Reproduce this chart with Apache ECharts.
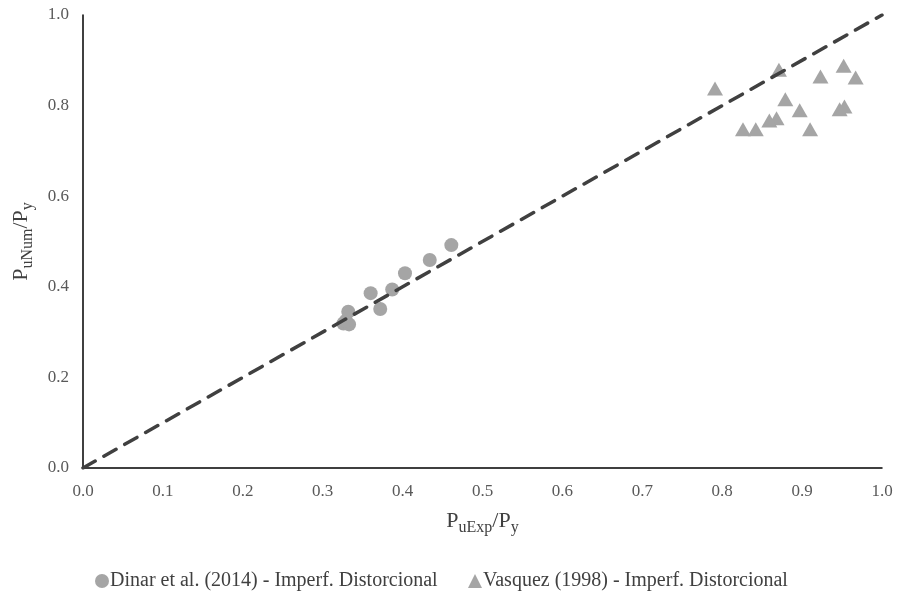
<!DOCTYPE html>
<html>
<head>
<meta charset="utf-8">
<script src="https://cdn.jsdelivr.net/npm/echarts@6/dist/echarts.min.js"></script>
<style>
  html, body { margin: 0; padding: 0; background: #fff; }
  #chart { width: 898px; height: 599px; }
</style>
</head>
<body>
<div id="chart"></div>
<script>
// Dinar et al. (2014): experimental vs numerical ultimate load ratio
const dinarExp = [0.326, 0.333, 0.329, 0.332, 0.360, 0.372, 0.387, 0.403, 0.434, 0.461];
const dinarNum = [0.319, 0.317, 0.325, 0.345, 0.386, 0.351, 0.394, 0.430, 0.459, 0.492];

// Vasquez (1998)
const vasquezExp = [0.791, 0.871, 0.952, 0.923, 0.967, 0.879, 0.897, 0.947, 0.953, 0.868, 0.859, 0.826, 0.842, 0.910];
const vasquezNum = [0.838, 0.879, 0.888, 0.864, 0.862, 0.814, 0.790, 0.792, 0.798, 0.772, 0.767, 0.748, 0.748, 0.748];

// 1:1 reference line
const refLine = [[0, 0], [1, 1]];

const xTickLabels = ['0.0', '0.1', '0.2', '0.3', '0.4', '0.5', '0.6', '0.7', '0.8', '0.9', '1.0'];
const yTickLabels = ['0.0', '0.2', '0.4', '0.6', '0.8', '1.0'];

const seriesNames = [
  'Dinar et al. (2014) - Imperf. Distorcional',
  'Vasquez (1998) - Imperf. Distorcional'
];

const serif = '"Liberation Serif", "Times New Roman", serif';
const zip = (a, b) => a.map((v, i) => [v, b[i]]);

const titleRich = {
  a: { fontFamily: serif, fontSize: 22, color: '#404040', lineHeight: 30, verticalAlign: 'middle' },
  b: { fontFamily: serif, fontSize: 16, color: '#404040', lineHeight: 30, verticalAlign: 'bottom' }
};

const axisCommon = {
  type: 'value',
  min: 0,
  max: 1,
  splitLine: { show: false },
  axisTick: { show: false },
  axisLine: { show: true, lineStyle: { color: '#000', width: 1.5 } },
  nameLocation: 'middle',
  nameTextStyle: { rich: titleRich }
};

const labelStyle = { fontFamily: serif, fontSize: 17, color: '#595959' };

const legendCommon = {
  top: 566,
  itemWidth: 14,
  itemHeight: 14,
  textStyle: { fontFamily: serif, fontSize: 20, color: '#404040', padding: [0, 0, 0, -4] }
};

const chart = echarts.init(document.getElementById('chart'), null, { renderer: 'canvas' });

chart.setOption({
  animation: false,
  backgroundColor: '#fff',
  grid: { left: 83, right: 16, top: 15, bottom: 131, containLabel: false, outerBoundsMode: 'none' },
  xAxis: Object.assign({}, axisCommon, {
    interval: 0.1,
    name: '{a|P}{b|uExp}{a|/P}{b|y}',
    nameGap: 38,
    axisLabel: Object.assign({}, labelStyle, {
      margin: 15,
      formatter: v => xTickLabels[Math.round(v * 10)]
    })
  }),
  yAxis: Object.assign({}, axisCommon, {
    interval: 0.2,
    name: '{a|P}{b|uNum}{a|/P}{b|y}',
    nameGap: 47,
    nameRotate: 90,
    axisLabel: Object.assign({}, labelStyle, {
      margin: 14,
      formatter: v => yTickLabels[Math.round(v * 5)]
    })
  }),
  legend: [
    Object.assign({}, legendCommon, {
      left: 90,
      data: [{ name: seriesNames[0], icon: 'circle' }]
    }),
    Object.assign({}, legendCommon, {
      left: 463,
      data: [{ name: seriesNames[1], icon: 'triangle' }]
    })
  ],
  series: [
    {
      name: seriesNames[0],
      type: 'scatter',
      symbol: 'circle',
      symbolSize: 14,
      itemStyle: { color: '#A5A5A5', opacity: 1 },
      data: zip(dinarExp, dinarNum),
      z: 2
    },
    {
      name: seriesNames[1],
      type: 'scatter',
      symbol: 'triangle',
      symbolSize: [16, 14],
      itemStyle: { color: '#A5A5A5', opacity: 1 },
      data: zip(vasquezExp, vasquezNum),
      z: 2
    },
    {
      name: '1:1',
      type: 'line',
      data: refLine,
      symbol: 'none',
      silent: true,
      lineStyle: { color: '#404040', width: 3.5, type: [14, 10], cap: 'round' },
      z: 3
    }
  ]
});
</script>
</body>
</html>
